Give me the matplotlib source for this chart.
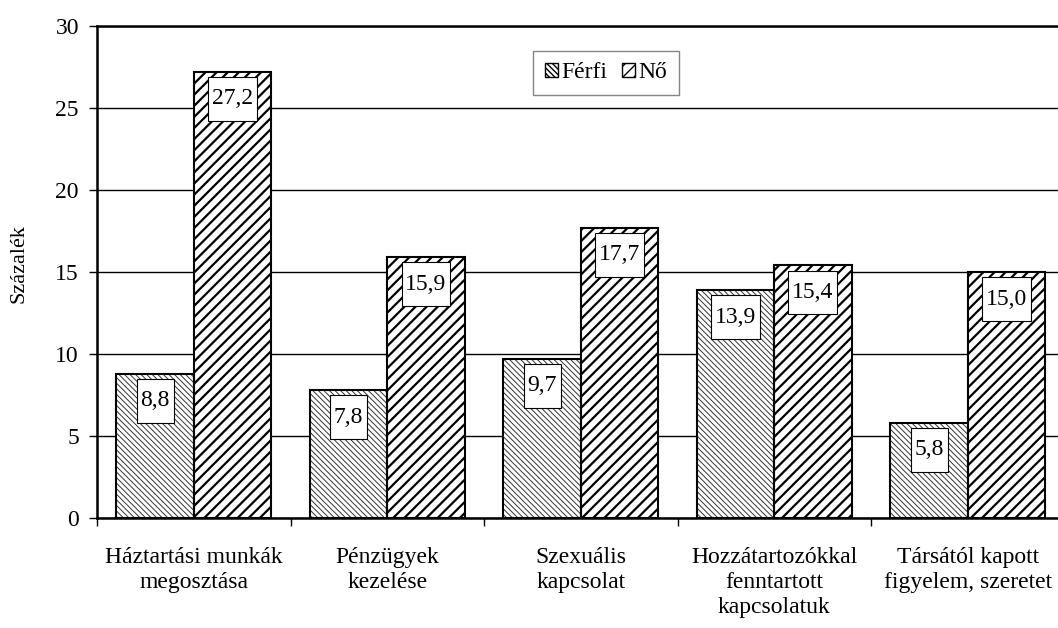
import matplotlib
matplotlib.use("Agg")
import matplotlib.pyplot as plt
from matplotlib.path import Path
import numpy as np

categories = ["Háztartási munkák\nmegosztása", "Pénzügyek\nkezelése", "Szexuális\nkapcsolat",
              "Hozzátartozókkal\nfenntartott\nkapcsolatuk", "Társától kapott\nfigyelem, szeretet"]
ferfi = [8.8, 7.8, 9.7, 13.9, 5.8]
no = [27.2, 15.9, 17.7, 15.4, 15.0]
series_names = ["Férfi", "Nő"]
yticks = [0, 5, 10, 15, 20, 25, 30]

plt.rcParams['font.family'] = ['Liberation Serif', 'DejaVu Serif']


def label_box(x0, y0, width, height, mutation_size):
    px = 0.16 * mutation_size
    py = 0.48 * mutation_size
    x0, y0 = x0 - px, y0 - py
    x1, y1 = x0 + width + 2 * px, y0 + height + 2 * py
    return Path([(x0, y0), (x1, y0), (x1, y1), (x0, y1), (x0, y0)],
                [Path.MOVETO, Path.LINETO, Path.LINETO, Path.LINETO, Path.CLOSEPOLY])


fig = plt.figure(figsize=(10.58, 6.28), dpi=100)
ax = fig.add_axes([97/1058, 1-518/628, (1064.5-97)/1058, (518-26)/628])

x = np.arange(len(categories))
w = 0.4

ax.set_ylim(0, 30)
ax.set_xlim(-0.5, len(categories) - 0.5)
ax.set_yticks(yticks)
ax.yaxis.grid(True, color='black', linewidth=1.0)
ax.set_axisbelow(True)

with plt.rc_context({'hatch.linewidth': 0.7}):
    b1 = ax.bar(x - w/2, ferfi, w, facecolor='white', edgecolor='#333333',
                hatch='\\\\\\\\\\\\', linewidth=0, zorder=2, label=series_names[0])
with plt.rc_context({'hatch.linewidth': 1.6}):
    b2 = ax.bar(x + w/2, no, w, facecolor='white', edgecolor='black',
                hatch='///', linewidth=0, zorder=2, label=series_names[1])
ax.bar(x - w/2, ferfi, w, fill=False, edgecolor='black', linewidth=1.5, zorder=3)
ax.bar(x + w/2, no, w, fill=False, edgecolor='black', linewidth=1.5, zorder=3)

for xs, vals in ((x - w/2, ferfi), (x + w/2, no)):
    for xi, v in zip(xs, vals):
        ax.annotate(f"{v:.1f}".replace('.', ','), (xi, v), xytext=(0, -27*0.72),
                    textcoords='offset points', ha='center', va='center', fontsize=17,
                    zorder=5,
                    bbox=dict(boxstyle=label_box, facecolor='white', edgecolor='black', linewidth=0.8))

ax.set_xticks(x)
ax.set_xticklabels(categories, fontsize=17, linespacing=1.25)
ax.tick_params(axis='x', which='major', length=0, pad=21)
ax.set_xticks(np.arange(-0.5, len(categories), 1), minor=True)
ax.tick_params(axis='x', which='minor', length=6, width=1, direction='out')
ax.tick_params(axis='y', labelsize=17, length=6, width=1, direction='out', pad=7)

for s in ['left', 'bottom', 'top', 'right']:
    ax.spines[s].set_linewidth(1.8)
    ax.spines[s].set_color('black')

ax.set_ylabel("Százalék", fontsize=16)
ax.yaxis.set_label_coords(-68/967.5, (518-264)/492)

leg = fig.legend(handles=[b1, b2], labels=series_names, loc='center',
                 bbox_to_anchor=(606/1058, 1-73/628), ncol=2, fontsize=17,
                 frameon=True, fancybox=False, edgecolor='#666666',
                 handlelength=0.55, handleheight=0.55, handletextpad=0.15,
                 columnspacing=0.6, borderpad=0.5)
leg.get_frame().set_linewidth(1.0)
for h in leg.legend_handles:
    h.set_linewidth(1.0)
    h.set_edgecolor('black')

fig.savefig("out.png", dpi=100)
